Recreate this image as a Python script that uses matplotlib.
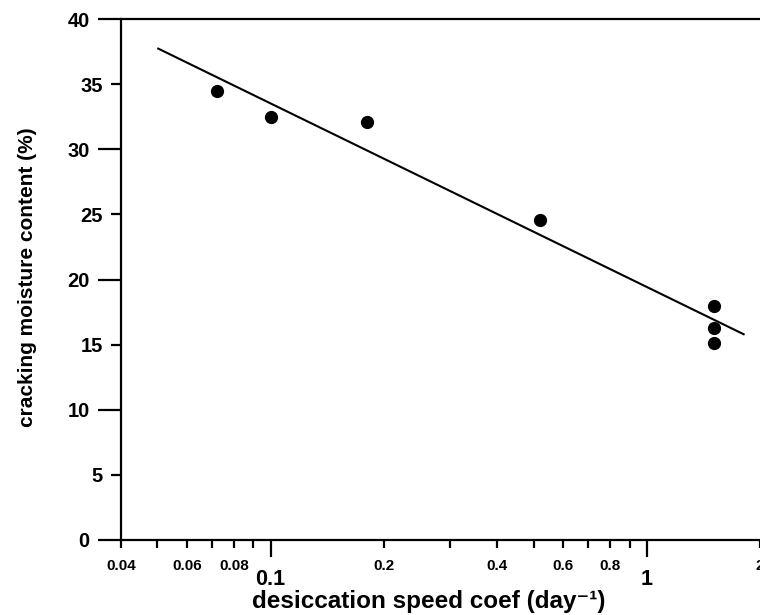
import numpy as np
import matplotlib
matplotlib.use("Agg")
import matplotlib.pyplot as plt
from matplotlib.ticker import FixedLocator, FixedFormatter

plt.rcParams['font.family'] = ['Liberation Sans', 'DejaVu Sans']

# measured points
speed_coef = [0.072, 0.10, 0.181, 0.52, 1.51, 1.51, 1.51]
moisture = [34.5, 32.5, 32.1, 24.6, 18.0, 16.3, 15.1]

# extent of the fitted line
fit_range = [0.05, 1.82]

x_major = [0.1, 1]
x_major_labels = ['0.1', '1']
x_minor = [0.04, 0.05, 0.06, 0.07, 0.08, 0.09, 0.2, 0.3, 0.4, 0.5, 0.6, 0.7, 0.8, 0.9, 2]
x_minor_labels = ['0.04', '', '0.06', '', '0.08', '', '0.2', '', '0.4', '', '0.6', '', '0.8', '', '2']
y_major = [0, 10, 20, 30, 40]
y_minor = [5, 15, 25, 35]

fig = plt.figure(figsize=(7.6, 6.15), dpi=100)
ax = fig.add_axes([0.159, 0.122, 0.841, 0.847])

# semi-log least-squares fit: moisture = a + b*log10(speed)
b, a = np.polyfit(np.log10(speed_coef), moisture, 1)
xf = np.array(fit_range)
ax.plot(xf, a + b * np.log10(xf), color='black', lw=1.5, solid_capstyle='butt')

ax.plot(speed_coef, moisture, 'o', color='black', markersize=8.5, zorder=3)

ax.set_xscale('log')
ax.set_xlim(0.04, 2)
ax.set_ylim(0, 40)

ax.xaxis.set_major_locator(FixedLocator(x_major))
ax.xaxis.set_major_formatter(FixedFormatter(x_major_labels))
ax.xaxis.set_minor_locator(FixedLocator(x_minor))
ax.xaxis.set_minor_formatter(FixedFormatter(x_minor_labels))

ax.yaxis.set_major_locator(FixedLocator(y_major))
ax.yaxis.set_minor_locator(FixedLocator(y_minor))
ax.yaxis.set_major_formatter(FixedFormatter([str(v) for v in y_major]))
ax.yaxis.set_minor_formatter(FixedFormatter([str(v) for v in y_minor]))

ax.tick_params(axis='x', which='major', length=12, width=1.6, labelsize=15.5, pad=9)
ax.tick_params(axis='x', which='minor', length=6, width=1.6, labelsize=11, pad=8)
ax.tick_params(axis='y', which='major', length=16.5, width=1.6, labelsize=14.5, pad=6)
ax.tick_params(axis='y', which='minor', length=7, width=1.6, labelsize=14.5, pad=6)
for lab in ax.get_xticklabels(which='both') + ax.get_yticklabels(which='both'):
    lab.set_fontweight('bold')

for side in ['left', 'bottom', 'top']:
    ax.spines[side].set_linewidth(1.6)
ax.spines['right'].set_visible(False)

ax.set_xlabel('desiccation speed coef (day\u207b\u00b9)', fontsize=17.5,
              fontweight='bold', va='baseline')
ax.xaxis.set_label_coords(0.482, -0.1305)
ax.set_ylabel('cracking moisture content (%)', fontsize=15, fontweight='bold')
ax.yaxis.set_label_coords(-0.131, 0.505)

fig.savefig('out.png', dpi=100)
